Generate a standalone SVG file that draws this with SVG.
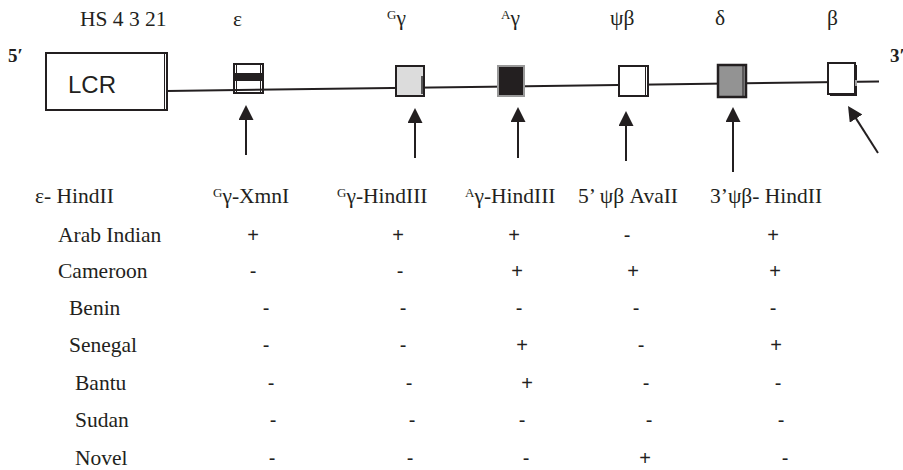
<svg xmlns="http://www.w3.org/2000/svg" width="903" height="470" viewBox="0 0 903 470">
<style>
.t{font-family:"Liberation Serif","Times New Roman",serif;font-size:21.5px;fill:#231f20}
.b{font-family:"Liberation Serif","Times New Roman",serif;font-size:19px;font-weight:bold;fill:#231f20}
.s{font-family:"Liberation Sans",Arial,sans-serif;font-size:20px;fill:#231f20;text-anchor:middle}
.sup{font-size:13px}
.lcr{font-family:"Liberation Sans",Arial,sans-serif;font-size:24px;fill:#231f20}
.ln{stroke:#231f20;stroke-width:2;fill:none}
.arr{stroke:#231f20;stroke-width:2;fill:none;marker-end:url(#ah)}
</style>
<defs>
<marker id="ah" viewBox="0 0 15 15" refX="5" refY="7.5" markerWidth="15" markerHeight="15" markerUnits="userSpaceOnUse" orient="auto">
<path d="M0,0 L15,7.5 L0,15 Z" fill="#231f20"/>
</marker>
</defs>
<rect width="903" height="470" fill="#fff"/>

<!-- top labels -->
<text class="t" x="80" y="26">HS 4 3 21</text>
<text class="t" x="233" y="26">ε</text>
<text class="t" x="387" y="25"><tspan class="sup" dy="-6">G</tspan><tspan dy="6">γ</tspan></text>
<text class="t" x="501" y="25"><tspan class="sup" dy="-6">A</tspan><tspan dy="6">γ</tspan></text>
<text class="t" x="610" y="25">ψβ</text>
<text class="t" x="715" y="25">δ</text>
<text class="t" x="827" y="25">β</text>
<text class="b" x="8" y="62">5′</text>
<text class="b" x="890" y="62">3′</text>

<g id="connectors">
<line class="ln" x1="167" y1="91" x2="879" y2="81.5"/>
<line class="arr" x1="246" y1="155" x2="246" y2="115"/>
<line class="arr" x1="415" y1="158" x2="415" y2="118"/>
<line class="arr" x1="518" y1="158" x2="518" y2="117"/>
<line class="arr" x1="626" y1="161" x2="626" y2="121"/>
<line class="arr" x1="733" y1="172" x2="733" y2="117"/>
<line class="arr" x1="878" y1="153" x2="853.4" y2="114.4"/>
</g>

<g id="LCR">
<rect x="46" y="53" width="121" height="57" fill="#fff" stroke="#231f20" stroke-width="2"/>
<line x1="164.5" y1="53" x2="164.5" y2="110" stroke="#231f20" stroke-width="1"/>
<text class="lcr" x="68" y="93">LCR</text>
</g>

<g id="epsilon">
<rect x="234" y="64" width="29" height="29" fill="none" stroke="#231f20" stroke-width="2"/>
<rect x="234" y="73" width="29" height="8" fill="#231f20"/>
<line x1="236.5" y1="64" x2="236.5" y2="93" stroke="#231f20" stroke-width="1"/>
<line x1="260.5" y1="64" x2="260.5" y2="93" stroke="#231f20" stroke-width="1"/>
</g>

<g id="Ggamma">
<rect x="396" y="66" width="28" height="30" fill="#dcdcdc" stroke="#231f20" stroke-width="2"/>
<line x1="422" y1="76" x2="422" y2="94" stroke="#555" stroke-width="2"/>
</g>

<g id="Agamma">
<rect x="498" y="66" width="26" height="30" fill="#231f20" stroke="#999" stroke-width="2"/>
</g>

<g id="psibeta">
<rect x="619" y="66" width="29" height="30" fill="#fff" stroke="#231f20" stroke-width="2"/>
<line x1="645.5" y1="66" x2="645.5" y2="96" stroke="#231f20" stroke-width="1"/>
</g>

<g id="delta">
<rect x="718" y="65" width="28" height="32" fill="#939393" stroke="#231f20" stroke-width="2.5"/>
<line x1="743" y1="65" x2="743" y2="97" stroke="#231f20" stroke-width="1"/>
</g>

<g id="beta">
<rect x="830" y="65" width="27" height="31" fill="#231f20"/>
<rect x="828" y="63" width="27" height="31" fill="#fff" stroke="#231f20" stroke-width="2"/>
<line x1="856" y1="80" x2="856" y2="86" stroke="#ccc" stroke-width="1.5"/>
</g>

<g id="table">
<text class="t" x="35" y="203">ε- HindII</text>
<text class="t" x="213" y="203"><tspan class="sup" dy="-6">G</tspan><tspan dy="6">γ-XmnI</tspan></text>
<text class="t" x="337" y="203"><tspan class="sup" dy="-6">G</tspan><tspan dy="6">γ-HindIII</tspan></text>
<text class="t" x="465" y="203"><tspan class="sup" dy="-6">A</tspan><tspan dy="6">γ-HindIII</tspan></text>
<text class="t" x="578" y="203">5’ ψβ AvaII</text>
<text class="t" x="710" y="203">3’ψβ- HindII</text>

<text class="t" x="58" y="242">Arab Indian</text>
<text class="s" x="253" y="242">+</text><text class="s" x="398" y="242">+</text><text class="s" x="514" y="242">+</text><text class="s" x="627" y="242">-</text><text class="s" x="773" y="242">+</text>

<text class="t" x="58" y="278">Cameroon</text>
<text class="s" x="253" y="278">-</text><text class="s" x="400" y="278">-</text><text class="s" x="517" y="278">+</text><text class="s" x="633" y="278">+</text><text class="s" x="775" y="278">+</text>

<text class="t" x="69" y="315">Benin</text>
<text class="s" x="266" y="315">-</text><text class="s" x="403" y="315">-</text><text class="s" x="519" y="315">-</text><text class="s" x="636" y="315">-</text><text class="s" x="773" y="315">-</text>

<text class="t" x="69" y="352">Senegal</text>
<text class="s" x="266" y="352">-</text><text class="s" x="403" y="352">-</text><text class="s" x="522" y="352">+</text><text class="s" x="641" y="352">-</text><text class="s" x="776" y="352">+</text>

<text class="t" x="75" y="390">Bantu</text>
<text class="s" x="271" y="390">-</text><text class="s" x="409" y="390">-</text><text class="s" x="527" y="390">+</text><text class="s" x="646" y="390">-</text><text class="s" x="778" y="390">-</text>

<text class="t" x="75" y="427">Sudan</text>
<text class="s" x="273" y="427">-</text><text class="s" x="412" y="427">-</text><text class="s" x="522" y="427">-</text><text class="s" x="649" y="427">-</text><text class="s" x="781" y="427">-</text>

<text class="t" x="75" y="465">Novel</text>
<text class="s" x="272" y="465">-</text><text class="s" x="410" y="465">-</text><text class="s" x="526" y="465">-</text><text class="s" x="645" y="465">+</text><text class="s" x="785" y="465">-</text>
</g>
</svg>
